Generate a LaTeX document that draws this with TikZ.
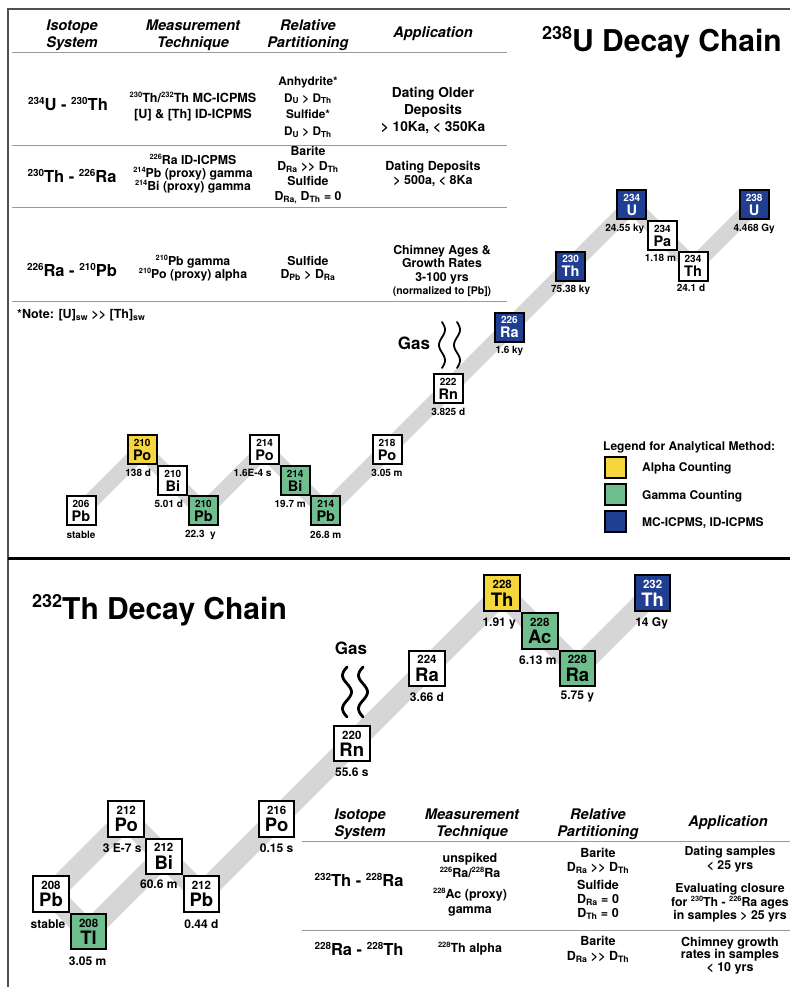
\documentclass[tikz,border=0pt]{standalone}
\usepackage{fontspec}
\setmainfont{TeX Gyre Heros}
\usepackage{xcolor}
\usepackage{graphicx}
\definecolor{alphaY}{HTML}{F5D63C}
\definecolor{gammaG}{HTML}{6FBF8E}
\definecolor{icpB}{HTML}{203E92}
\definecolor{bandG}{HTML}{D6D6D6}
\definecolor{ruleG}{HTML}{9A9A9A}
\definecolor{frameG}{HTML}{505050}
\usepackage{tikz}
\usetikzlibrary{positioning, backgrounds}

\newcommand{\ms}[1]{\raisebox{0.4em}{\scalebox{0.6}{#1}}}
\newcommand{\Dsub}[1]{D\textsubscript{#1}}
\newcommand{\nucU}[2]{{\fontsize{10}{10}\selectfont #1}\\#2}
\newcommand{\nucT}[2]{{\fontsize{11.5}{11}\selectfont #1}\\#2}

\tikzset{
    isobox/.style={
        draw, line width=2pt, fill=white,
        inner sep=0pt, align=center
    },
    ubox/.style={
        isobox, minimum size=29pt,
        font=\bfseries\fontsize{14.5}{14}\selectfont
    },
    tbox/.style={
        isobox, minimum size=35.6pt,
        font=\bfseries\fontsize{18.5}{17.5}\selectfont
    },
    alphabox/.style={fill=alphaY},
    gammabox/.style={fill=gammaG},
    icpbox/.style={fill=icpB, text=white},
    uhl/.style={font=\bfseries\fontsize{10}{12}\selectfont, inner sep=0pt},
    thl/.style={font=\bfseries\fontsize{12}{14}\selectfont, inner sep=0pt},
    uband/.style={line width=16pt, bandG, line join=miter},
    tband/.style={line width=21pt, bandG, line join=miter},
    hdr/.style={align=center, inner sep=0pt, font=\bfseries\itshape\fontsize{14.6}{17}\selectfont},
    sys/.style={inner sep=0pt, font=\bfseries\fontsize{16.5}{18}\selectfont},
    cell/.style 2 args={align=center, inner sep=0pt, font=\bfseries\fontsize{#1}{#2}\selectfont},
    tabrule/.style={ruleG, line width=1pt},
    ttl/.style={inner sep=0pt, font=\bfseries\fontsize{30}{32}\selectfont},
    legsq/.style={draw, line width=2pt, minimum size=21pt, inner sep=0pt},
    legtxt/.style={anchor=west, inner sep=0pt, font=\bfseries\fontsize{12}{14}\selectfont},
    gaswave/.style={line width=1.8pt, line cap=round},
    gastxt/.style={inner sep=0pt, font=\bfseries\fontsize{17}{19}\selectfont},
}

\begin{document}
\begin{tikzpicture}[x=1pt, y=1pt, on grid]
    \useasboundingbox (0,0) rectangle (790,987);
    % frame and divider
    \draw[frameG, line width=2pt] (8,0) -- (8,978) -- (790,978);
    \draw[line width=3pt] (8,428) -- (790,428);

    % 238U table
    \node[hdr] (uhsys) at (72,952) {Isotope\\System};
    \node[hdr] (uhtech) at (193,952) {Measurement\\Technique};
    \node[hdr] (uhpart) at (308,952) {Relative\\Partitioning};
    \node[hdr] (uhapp) at (433,953) {Application};
    \draw[tabrule] (12,934) -- (507,934);

    \node[sys] (usys1) at (68,883) {\ms{234}U - \ms{230}Th};
    \node[cell={12.6}{16}] (utech1) at (193,880) {\ms{230}Th/\ms{232}Th MC-ICPMS\\{[U]} \& [Th] ID-ICPMS};
    \node[cell={11.8}{16.7}] (upart1) at (308,880) {Anhydrite*\\\Dsub{U} > \Dsub{Th}\\Sulfide*\\\Dsub{U} > \Dsub{Th}};
    \node[cell={13.7}{17}] (uapp1) at (433,876) {Dating Older\\Deposits\\> 10Ka, < 350Ka};
    \draw[tabrule] (12,841) -- (507,841);

    \node[sys] (usys2) at (72,811) {\ms{230}Th - \ms{226}Ra};
    \node[cell={12.3}{13}] (utech2) at (193,813) {\ms{226}Ra ID-ICPMS\\\ms{214}Pb (proxy) gamma\\\ms{214}Bi (proxy) gamma};
    \node[cell={12.3}{15}] (upart2) at (308,811.5) {Barite\\\Dsub{Ra} >{}> \Dsub{Th}\\Sulfide\\\Dsub{Ra,} \Dsub{Th} = 0};
    \node[cell={12.5}{14}] (uapp2) at (433,813) {Dating Deposits\\> 500a, < 8Ka};
    \draw[tabrule] (12,779) -- (507,779);

    \node[sys] (usys3) at (72,717) {\ms{226}Ra - \ms{210}Pb};
    \node[cell={12.3}{13}] (utech3) at (193,718.5) {\ms{210}Pb gamma\\\ms{210}Po (proxy) alpha};
    \node[cell={12.3}{13}] (upart3) at (308,718.5) {Sulfide\\\Dsub{Pb} > \Dsub{Ra}};
    \node[cell={12.3}{13.5}] (uapp3) at (442,716) {Chimney Ages \&\\Growth Rates\\3-100 yrs\\{\fontsize{10.5}{12}\selectfont (normalized to [Pb])}};
    \draw[tabrule] (12,685) -- (507,685);
    \node[cell={12.5}{14}, anchor=west] (unote) at (17,672) {*Note: [U]\textsubscript{sw} >{}> [Th]\textsubscript{sw}};

    \node[ttl, anchor=base east] (utitle) at (782,935) {\ms{238}U Decay Chain};

    % 238U chain
    \node[ubox] (pb206) at (81,476) {\nucU{206}{Pb}};
    \node[ubox, alphabox, above right=61.2pt and 61.2pt of pb206] (po210) {\nucU{210}{Po}};
    \node[ubox, below right=30.6pt and 30.6pt of po210] (bi210) {\nucU{210}{Bi}};
    \node[ubox, gammabox, below right=30.6pt and 30.6pt of bi210] (pb210) {\nucU{210}{Pb}};
    \node[ubox, above right=61.2pt and 61.2pt of pb210] (po214) {\nucU{214}{Po}};
    \node[ubox, gammabox, below right=30.6pt and 30.6pt of po214] (bi214) {\nucU{214}{Bi}};
    \node[ubox, gammabox, below right=30.6pt and 30.6pt of bi214] (pb214) {\nucU{214}{Pb}};
    \node[ubox, above right=61.2pt and 61.2pt of pb214] (po218) {\nucU{218}{Po}};
    \node[ubox, above right=61.2pt and 61.2pt of po218] (rn222) {\nucU{222}{Rn}};
    \node[ubox, icpbox, above right=61.2pt and 61.2pt of rn222] (ra226) {\nucU{226}{Ra}};
    \node[ubox, icpbox, above right=61.2pt and 61.2pt of ra226] (th230) {\nucU{230}{Th}};
    \node[ubox, icpbox, above right=61.2pt and 61.2pt of th230] (u234) {\nucU{234}{U}};
    \node[ubox, below right=30.6pt and 30.6pt of u234] (pa234) {\nucU{234}{Pa}};
    \node[ubox, below right=30.6pt and 30.6pt of pa234] (th234) {\nucU{234}{Th}};
    \node[ubox, icpbox, above right=61.2pt and 61.2pt of th234] (u238) {\nucU{238}{U}};

    \node[uhl, below=23.5pt of pb206] (pb206hl) {stable};
    \node[uhl, below=23.5pt of po210, xshift=-4pt] (po210hl) {138 d};
    \node[uhl, below=23.5pt of bi210, xshift=-4pt] (bi210hl) {5.01 d};
    \node[uhl, below=23.5pt of pb210, xshift=-3pt] (pb210hl) {22.3~~y};
    \node[uhl, below=23.5pt of po214, xshift=-12pt] (po214hl) {1.6E-4 s};
    \node[uhl, below=23.5pt of bi214, xshift=-5pt] (bi214hl) {19.7 m};
    \node[uhl, below=23.5pt of pb214] (pb214hl) {26.8 m};
    \node[uhl, below=23.5pt of po218] (po218hl) {3.05 m};
    \node[uhl, below=23.5pt of rn222] (rn222hl) {3.825 d};
    \node[uhl, below=23.5pt of ra226] (ra226hl) {1.6 ky};
    \node[uhl, below=23.5pt of th230] (th230hl) {75.38 ky};
    \node[uhl, below=23.5pt of u234, xshift=-7pt] (u234hl) {24.55 ky};
    \node[uhl, below=22pt of pa234, xshift=-2pt] (pa234hl) {1.18 m};
    \node[uhl, below=22pt of th234, xshift=-2pt] (th234hl) {24.1 d};
    \node[uhl, below=23.5pt of u238] (u238hl) {4.468 Gy};

    \begin{scope}[on background layer]
        \draw[uband] (pb206.center) -- (po210.center) -- (bi210.center) -- (pb210.center)
            -- (po214.center) -- (bi214.center) -- (pb214.center) -- (po218.center)
            -- (rn222.center) -- (ra226.center) -- (th230.center) -- (u234.center)
            -- (pa234.center) -- (th234.center) -- (u238.center);
    \end{scope}

    \node[gastxt] (ugas) at (414,644) {Gas};
    \foreach \gx in {442,457}
        \draw[gaswave] plot[smooth, domain=0:1, samples=30, variable=\t] ({\gx+3*sin(540*\t)}, {665-46*\t});

    % legend
    \node[legtxt] (legtitle) at (603,540) {Legend for Analytical Method:};
    \node[legsq, alphabox] (legA) at (615,519) {};
    \node[legsq, gammabox] (legG) at (615,492) {};
    \node[legsq, icpbox] (legI) at (615,465) {};
    \node[legtxt] (legAtxt) at (642,519) {Alpha Counting};
    \node[legtxt] (legGtxt) at (642,491) {Gamma Counting};
    \node[legtxt] (legItxt) at (642,464) {MC-ICPMS, ID-ICPMS};

    % 232Th chain
    \node[ttl, anchor=base west] (ttitle) at (32,367) {\ms{232}Th Decay Chain};

    \node[tbox] (pb208) at (51,93) {\nucT{208}{Pb}};
    \node[tbox, gammabox, below right=37.6pt and 37.6pt of pb208] (tl208) {\nucT{208}{Tl}};
    \node[tbox, above right=75.2pt and 75.2pt of pb208] (po212) {\nucT{212}{Po}};
    \node[tbox, below right=37.6pt and 37.6pt of po212] (bi212) {\nucT{212}{Bi}};
    \node[tbox, below right=37.6pt and 37.6pt of bi212] (pb212) {\nucT{212}{Pb}};
    \node[tbox, above right=75.2pt and 75.2pt of pb212] (po216) {\nucT{216}{Po}};
    \node[tbox, above right=75.2pt and 75.2pt of po216] (rn220) {\nucT{220}{Rn}};
    \node[tbox, above right=75.2pt and 75.2pt of rn220] (ra224) {\nucT{224}{Ra}};
    \node[tbox, alphabox, above right=75.2pt and 75.2pt of ra224] (th228) {\nucT{228}{Th}};
    \node[tbox, gammabox, below right=37.6pt and 37.6pt of th228] (ac228) {\nucT{228}{Ac}};
    \node[tbox, gammabox, below right=37.6pt and 37.6pt of ac228] (ra228) {\nucT{228}{Ra}};
    \node[tbox, icpbox, above right=75.2pt and 75.2pt of ra228] (th232) {\nucT{232}{Th}};

    \node[thl, below=30.5pt of pb208, xshift=-3pt] (pb208hl) {stable};
    \node[thl, below=30pt of tl208, xshift=-1pt] (tl208hl) {3.05 m};
    \node[thl, below=29pt of po212, xshift=-4pt] (po212hl) {3 E-7 s};
    \node[thl, below=27.5pt of bi212, xshift=-5pt] (bi212hl) {60.6 m};
    \node[thl, below=30.5pt of pb212] (pb212hl) {0.44 d};
    \node[thl, below=29pt of po216] (po216hl) {0.15 s};
    \node[thl, below=29pt of rn220] (rn220hl) {55.6 s};
    \node[thl, below=28.5pt of ra224] (ra224hl) {3.66 d};
    \node[thl, below=30.5pt of th228, xshift=-3pt] (th228hl) {1.91 y};
    \node[thl, below=29pt of ac228, xshift=-2pt] (ac228hl) {6.13 m};
    \node[thl, below=28.5pt of ra228] (ra228hl) {5.75 y};
    \node[thl, below=30.5pt of th232, xshift=-1pt] (th232hl) {14 Gy};

    \begin{scope}[on background layer]
        \draw[tband] (th232.center) -- (ra228.center) -- (ac228.center) -- (th228.center)
            -- (ra224.center) -- (rn220.center) -- (po216.center) -- (pb212.center)
            -- (bi212.center) -- (po212.center) -- (pb208.center) -- (tl208.center)
            -- (bi212.center);
    \end{scope}

    \node[gastxt] (tgas) at (351,339) {Gas};
    \foreach \gx in {347,363}
        \draw[gaswave, line width=2.8pt] plot[smooth, domain=0:1, samples=30, variable=\t] ({\gx-4.5*sin(540*\t)}, {320-50*\t});

    % 232Th table
    \node[hdr] (thsys) at (360,163) {Isotope\\System};
    \node[hdr] (thtech) at (472,163) {Measurement\\Technique};
    \node[hdr] (thpart) at (598,163) {Relative\\Partitioning};
    \node[hdr] (thapp) at (728,164) {Application};
    \draw[tabrule] (302,145) -- (790,145);

    \node[sys] (tsys1) at (359,107) {\ms{232}Th - \ms{228}Ra};
    \node[cell={12.5}{15}] (ttech1) at (470,102) {unspiked\\\ms{226}Ra/\ms{228}Ra\\[6pt]\ms{228}Ac (proxy)\\gamma};
    \node[cell={12.5}{14}] (tpart1) at (598,103) {Barite\\\Dsub{Ra} >{}> \Dsub{Th}\\[4pt]Sulfide\\\Dsub{Ra} = 0\\\Dsub{Th} = 0};
    \node[cell={12.3}{13.5}] (tapp1) at (730,102.5) {Dating samples\\< 25 yrs\\[10pt]Evaluating closure\\for \ms{230}Th - \ms{226}Ra ages\\in samples > 25 yrs};
    \draw[tabrule] (302,56) -- (790,56);

    \node[sys] (tsys2) at (359,38) {\ms{228}Ra - \ms{228}Th};
    \node[cell={12.5}{15}] (ttech2) at (470,38) {\ms{228}Th alpha};
    \node[cell={12.5}{15}] (tpart2) at (598,37.5) {Barite\\\Dsub{Ra} >{}> \Dsub{Th}};
    \node[cell={12.5}{12.5}] (tapp2) at (730,31.5) {Chimney growth\\rates in samples\\< 10 yrs};
\end{tikzpicture}
\end{document}
